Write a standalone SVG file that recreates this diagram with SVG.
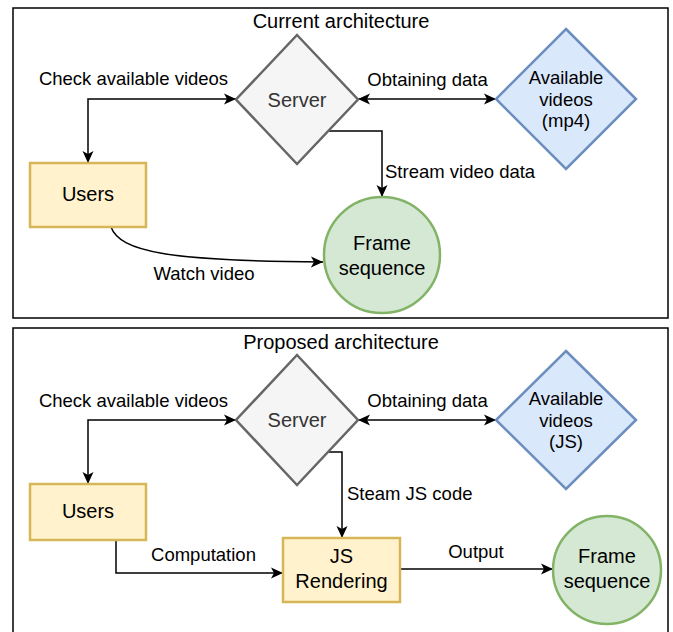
<svg xmlns="http://www.w3.org/2000/svg" width="673" height="632" viewBox="0 0 673 632">
<style>
text{font-family:"Liberation Sans",Arial,Helvetica,sans-serif;fill:#000}
.title{font-size:20px;text-anchor:middle}
.lbl{font-size:18.5px}
.c{text-anchor:middle}
.node{font-size:20px;text-anchor:middle}
.av{font-size:18.5px;text-anchor:middle}
.frame{fill:#fff;stroke:#000;stroke-width:1.5}
.server{fill:#f5f5f5;stroke:#666;stroke-width:2.5}
.blue{fill:#dae8fc;stroke:#6c8ebf;stroke-width:2.5}
.yellow{fill:#fff2cc;stroke:#d6b656;stroke-width:2.5}
.green{fill:#d5e8d4;stroke:#82b366;stroke-width:2.5}
.edge{fill:none;stroke:#000;stroke-width:1.5}
</style>
<defs>
<marker id="arr" viewBox="0 0 12 12" refX="12" refY="6" markerWidth="12" markerHeight="12" markerUnits="userSpaceOnUse" orient="auto-start-reverse">
<path d="M0,0.5 L12,6 L0,11.5 L3,6 z" fill="#000"/>
</marker>
</defs>
<rect width="673" height="632" fill="#fff"/>
<g id="frame-current">
<rect class="frame" x="13" y="8" width="655" height="310"/>
<text class="title" x="341" y="28">Current architecture</text>
</g>
<g id="frame-proposed">
<rect class="frame" x="13" y="328" width="655" height="320"/>
<text class="title" x="341" y="349">Proposed architecture</text>
</g>
<g id="connectors">
<path class="edge" d="M88,163 V99 H236" marker-start="url(#arr)" marker-end="url(#arr)"/>
<path class="edge" d="M358,99 H496" marker-start="url(#arr)" marker-end="url(#arr)"/>
<path class="edge" d="M329,131 H382 V197" marker-end="url(#arr)"/>
<path class="edge" d="M111,227 C120,252 170,261 323,262" marker-end="url(#arr)"/>
<path class="edge" d="M88,484 V420 H236" marker-start="url(#arr)" marker-end="url(#arr)"/>
<path class="edge" d="M358,420 H496" marker-start="url(#arr)" marker-end="url(#arr)"/>
<path class="edge" d="M329,452 H342 V538" marker-end="url(#arr)"/>
<path class="edge" d="M116,540 V573 H283" marker-end="url(#arr)"/>
<path class="edge" d="M400,569 H553" marker-end="url(#arr)"/>
<text class="lbl c" x="133.5" y="85">Check available videos</text>
<text class="lbl c" x="427.5" y="86">Obtaining data</text>
<text class="lbl" x="385" y="178">Stream video data</text>
<text class="lbl c" x="204" y="280">Watch video</text>
<text class="lbl c" x="133.5" y="407">Check available videos</text>
<text class="lbl c" x="427.5" y="407">Obtaining data</text>
<text class="lbl" x="347" y="500">Steam JS code</text>
<text class="lbl c" x="203.5" y="561">Computation</text>
<text class="lbl c" x="476" y="558">Output</text>
</g>
<g id="server-current">
<polygon class="server" points="297,35 358,99.5 297,164 236,99.5"/>
<text class="node" x="297" y="107" style="fill:#333">Server</text>
</g>
<g id="videos-current">
<polygon class="blue" points="566,29 636,99 566,169 496,99"/>
<text class="av" x="566" y="84">Available</text>
<text class="av" x="566" y="106">videos</text>
<text class="av" x="566" y="127">(mp4)</text>
</g>
<g id="users-current">
<rect class="yellow" x="30" y="163" width="116" height="64"/>
<text class="node" x="88" y="201">Users</text>
</g>
<g id="frames-current">
<circle class="green" cx="382" cy="255" r="58"/>
<text class="node" x="382" y="250">Frame</text>
<text class="node" x="382" y="275">sequence</text>
</g>
<g id="server-proposed">
<polygon class="server" points="297,355 358,420 297,485 236,420"/>
<text class="node" x="297" y="427" style="fill:#333">Server</text>
</g>
<g id="videos-proposed">
<polygon class="blue" points="566,351 636,420 566,489 496,420"/>
<text class="av" x="566" y="405">Available</text>
<text class="av" x="566" y="427">videos</text>
<text class="av" x="566" y="448">(JS)</text>
</g>
<g id="users-proposed">
<rect class="yellow" x="30" y="484" width="116" height="56"/>
<text class="node" x="88" y="518">Users</text>
</g>
<g id="js-rendering">
<rect class="yellow" x="283" y="538" width="117" height="64"/>
<text class="node" x="341.5" y="563">JS</text>
<text class="node" x="341.5" y="588">Rendering</text>
</g>
<g id="frames-proposed">
<circle class="green" cx="607" cy="570" r="54"/>
<text class="node" x="607" y="563">Frame</text>
<text class="node" x="607" y="588">sequence</text>
</g>
</svg>
